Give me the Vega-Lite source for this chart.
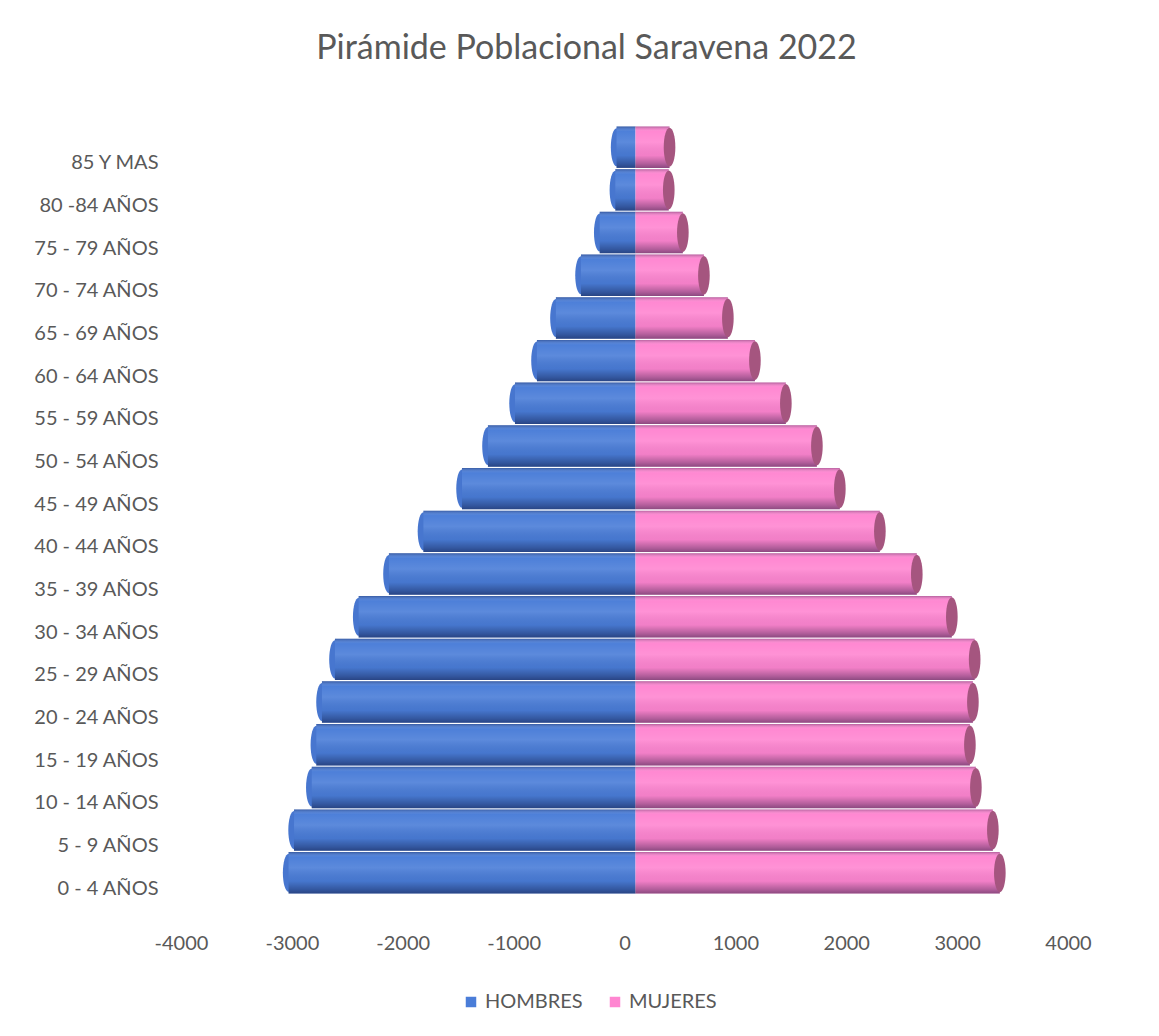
{
  "$schema": "https://vega.github.io/schema/vega-lite/v6.json",
  "width": 887,
  "height": 770,
  "autosize": {"type": "none"},
  "padding": {"left": 181, "top": 141, "right": 91, "bottom": 125},
  "background": "white",
  "title": {
    "text": "Pirámide Poblacional Saravena 2022",
    "font": "Lato",
    "fontSize": 34,
    "fontWeight": "normal",
    "color": "#595959",
    "anchor": "middle",
    "dx": -38,
    "offset": 60
  },
  "config": {
    "view": {"stroke": null},
    "font": "Lato"
  },
  "data": {
    "values": [
      {"edad": "85 Y MAS", "sexo": "HOMBRES", "valor": -171},
      {"edad": "85 Y MAS", "sexo": "MUJERES", "valor": 307},
      {"edad": "80 -84 AÑOS", "sexo": "HOMBRES", "valor": -182},
      {"edad": "80 -84 AÑOS", "sexo": "MUJERES", "valor": 300},
      {"edad": "75 - 79 AÑOS", "sexo": "HOMBRES", "valor": -323},
      {"edad": "75 - 79 AÑOS", "sexo": "MUJERES", "valor": 427},
      {"edad": "70 - 74 AÑOS", "sexo": "HOMBRES", "valor": -492},
      {"edad": "70 - 74 AÑOS", "sexo": "MUJERES", "valor": 617},
      {"edad": "65 - 69 AÑOS", "sexo": "HOMBRES", "valor": -718},
      {"edad": "65 - 69 AÑOS", "sexo": "MUJERES", "valor": 833},
      {"edad": "60 - 64 AÑOS", "sexo": "HOMBRES", "valor": -889},
      {"edad": "60 - 64 AÑOS", "sexo": "MUJERES", "valor": 1077},
      {"edad": "55 - 59 AÑOS", "sexo": "HOMBRES", "valor": -1087},
      {"edad": "55 - 59 AÑOS", "sexo": "MUJERES", "valor": 1356},
      {"edad": "50 - 54 AÑOS", "sexo": "HOMBRES", "valor": -1331},
      {"edad": "50 - 54 AÑOS", "sexo": "MUJERES", "valor": 1636},
      {"edad": "45 - 49 AÑOS", "sexo": "HOMBRES", "valor": -1565},
      {"edad": "45 - 49 AÑOS", "sexo": "MUJERES", "valor": 1843},
      {"edad": "40 - 44 AÑOS", "sexo": "HOMBRES", "valor": -1913},
      {"edad": "40 - 44 AÑOS", "sexo": "MUJERES", "valor": 2204},
      {"edad": "35 - 39 AÑOS", "sexo": "HOMBRES", "valor": -2224},
      {"edad": "35 - 39 AÑOS", "sexo": "MUJERES", "valor": 2537},
      {"edad": "30 - 34 AÑOS", "sexo": "HOMBRES", "valor": -2497},
      {"edad": "30 - 34 AÑOS", "sexo": "MUJERES", "valor": 2853},
      {"edad": "25 - 29 AÑOS", "sexo": "HOMBRES", "valor": -2711},
      {"edad": "25 - 29 AÑOS", "sexo": "MUJERES", "valor": 3059},
      {"edad": "20 - 24 AÑOS", "sexo": "HOMBRES", "valor": -2828},
      {"edad": "20 - 24 AÑOS", "sexo": "MUJERES", "valor": 3043},
      {"edad": "15 - 19 AÑOS", "sexo": "HOMBRES", "valor": -2879},
      {"edad": "15 - 19 AÑOS", "sexo": "MUJERES", "valor": 3016},
      {"edad": "10 - 14 AÑOS", "sexo": "HOMBRES", "valor": -2920},
      {"edad": "10 - 14 AÑOS", "sexo": "MUJERES", "valor": 3070},
      {"edad": "5 - 9 AÑOS", "sexo": "HOMBRES", "valor": -3080},
      {"edad": "5 - 9 AÑOS", "sexo": "MUJERES", "valor": 3223},
      {"edad": "0 - 4 AÑOS", "sexo": "HOMBRES", "valor": -3129},
      {"edad": "0 - 4 AÑOS", "sexo": "MUJERES", "valor": 3286}
    ]
  },
  "encoding": {
    "y": {
      "field": "edad",
      "type": "nominal",
      "sort": null,
      "scale": {"paddingInner": 0.0, "paddingOuter": 0.02},
      "axis": {
        "title": null,
        "domain": false,
        "ticks": false,
        "labelFont": "Lato",
        "labelFontSize": 20,
        "labelColor": "#595959",
        "labelPadding": 23
      }
    },
    "x": {
      "field": "valor",
      "type": "quantitative",
      "stack": null,
      "scale": {"domain": [-4000, 4000], "nice": false},
      "axis": {
        "title": null,
        "values": [-4000, -3000, -2000, -1000, 0, 1000, 2000, 3000, 4000],
        "labelExpr": "'' + datum.value",
        "labelFlush": false,
        "domain": false,
        "ticks": false,
        "grid": false,
        "labelFont": "Lato",
        "labelFontSize": 20,
        "labelColor": "#595959",
        "labelPadding": 22
      }
    }
  },
  "layer": [
    {
      "transform": [{"filter": "datum.sexo == 'HOMBRES'"}],
      "mark": {
        "type": "point",
        "shape": "M0,-1 A0.3,1 0 1,1 0,1 A0.3,1 0 1,1 0,-1 Z",
        "filled": true,
        "color": "#4776CF",
        "opacity": 1,
        "size": 1450,
        "xOffset": 11,
        "yOffset": -16
      }
    },
    {
      "mark": {"type": "bar", "xOffset": 11, "x2Offset": 11, "yOffset": -16, "height": {"band": 0.97}},
      "encoding": {
        "x2": {"datum": 0},
        "color": {
          "field": "sexo",
          "type": "nominal",
          "scale": {"domain": ["HOMBRES", "MUJERES"], "range": ["#4A7DD8", "#FF86D1"]},
          "legend": {
            "title": null,
            "orient": "none",
            "legendX": 280,
            "legendY": 851,
            "direction": "horizontal",
            "symbolType": "square",
            "symbolSize": 110,
            "symbolStrokeWidth": 0,
            "labelFont": "Lato",
            "labelFontSize": 20,
            "labelColor": "#595959",
            "columnPadding": 22,
            "labelOffset": 4
          }
        }
      }
    },
    {
      "mark": {
        "type": "bar",
        "xOffset": 11,
        "x2Offset": 11,
        "yOffset": -16,
        "height": {"band": 0.97},
        "color": {
          "gradient": "linear",
          "x1": 0, "y1": 0, "x2": 0, "y2": 1,
          "stops": [
            {"offset": 0, "color": "rgba(10,10,40,0.30)"},
            {"offset": 0.12, "color": "rgba(255,255,255,0.02)"},
            {"offset": 0.38, "color": "rgba(255,255,255,0.10)"},
            {"offset": 0.7, "color": "rgba(0,0,20,0.05)"},
            {"offset": 0.9, "color": "rgba(0,0,30,0.30)"},
            {"offset": 1, "color": "rgba(0,0,30,0.45)"}
          ]
        }
      },
      "encoding": {
        "x2": {"datum": 0}
      }
    },
    {
      "transform": [{"filter": "datum.sexo == 'MUJERES'"}],
      "mark": {
        "type": "point",
        "shape": "M0,-1 A0.3,1 0 1,1 0,1 A0.3,1 0 1,1 0,-1 Z",
        "filled": true,
        "color": "#A5557F",
        "opacity": 1,
        "size": 1500,
        "xOffset": 11,
        "yOffset": -16
      }
    }
  ]
}
